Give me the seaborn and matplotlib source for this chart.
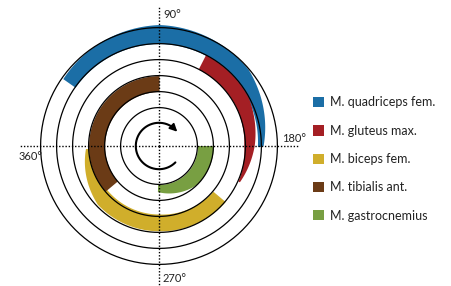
import numpy as np
import matplotlib
matplotlib.use("Agg")
import matplotlib.pyplot as plt
from matplotlib.patches import Patch
import seaborn as sns

# ---- data ----
muscles = ["M. quadriceps fem.", "M. gluteus max.", "M. biceps fem.",
           "M. tibialis ant.", "M. gastrocnemius"]
colors = ["#1b6ea6", "#a41f24", "#d0ae2b", "#6b3b16", "#789f42"]
onset_deg = [35, 117, 220, 320, 180]      # crank angle where activity starts
offset_deg = [180, 204, 358, 450, 272]    # crank angle where activity ends
ring_index = [5, 4, 3, 2, 1]              # ring (from inside) for each muscle
angle_labels = ["90°", "180°", "270°", "360°"]
axis_angles = [90, 180, 270, 0]

# ---- style ----
sns.set_theme(style="white")
plt.rcParams["font.family"] = ["Lato", "DejaVu Sans"]

circle_radii = 2.4 + np.arange(6)   # ring boundaries
rmax = 8.75
# band shape profiles (position along arc, inner / outer edge as fraction of ring width)
profiles = [
    ([0, 0.38, 0.72, 1], [0, 0, -0.05, -0.25], [0.94, 1.19, 0.95, 0.1]),
    ([0, 0.4, 0.72, 1], [0, 0, -0.1, 0.0], [1.0, 0.95, 0.55, 0.1]),
    ([0, 0.36, 0.7, 1], [0, -0.15, -0.15, -0.15], [1.0, 0.9, 0.9, 0.2]),
    ([0, 1], [0, 0], [1, 1]),
    ([0, 0.5, 1], [0, 0, 0], [1, 0.95, 0.45]),
]

fig = plt.figure(figsize=(4.51, 2.86), dpi=100)
ax = fig.add_axes([19 / 451, 0, 280 / 451, 280 / 286], projection="polar")
ax.set_theta_zero_location("W")
ax.set_theta_direction(-1)
ax.set_ylim(0, rmax)
ax.set_axis_off()

# activity bands
for name, c, on, off, ri, prof in zip(muscles, colors, onset_deg, offset_deg,
                                      ring_index, profiles):
    t = np.linspace(0, 1, 300)
    th = np.radians(on + (off - on) * t)
    r0 = circle_radii[ri - 1]
    kt, kin, kout = prof
    rin = r0 + np.interp(t, kt, kin)
    rout = r0 + np.interp(t, kt, kout)
    ax.fill_between(th, rin, rout, color=c, lw=0, zorder=2)

# concentric circles
theta_full = np.linspace(0, 2 * np.pi, 361)
for r in circle_radii:
    sns.lineplot(x=theta_full, y=np.full_like(theta_full, r), ax=ax,
                 color="black", lw=0.9, sort=False, estimator=None, zorder=3)

# dotted cross-hair
for a in axis_angles:
    ax.plot([np.radians(a)] * 2, [0, rmax], color="black", lw=1.0,
            ls=(0, (1, 1.3)), zorder=4)

# rotation arrow
arc = np.radians(np.linspace(225, 490, 200))
ax.plot(arc, np.full_like(arc, 1.45), color="black", lw=1.5, zorder=5)
ax.annotate("", xy=(np.radians(502), 1.45), xytext=(np.radians(488), 1.45),
            arrowprops=dict(arrowstyle="-|>", color="black", lw=1.3,
                            mutation_scale=11, shrinkA=0, shrinkB=0), zorder=5)

# angle labels
label_pos = {"90°": (163, 14), "180°": (282, 139), "270°": (163, 278), "360°": (19, 157)}
for lab in angle_labels:
    x, y = label_pos[lab]
    fig.text(x / 451, 1 - y / 286, lab, ha="left", va="center", fontsize=8,
             color="#222222")

# legend
handles = [Patch(facecolor=c, edgecolor="none", label=m) for m, c in zip(muscles, colors)]
fig.legend(handles=handles, loc="center left", bbox_to_anchor=(313 / 451, 1 - 159 / 286),
           frameon=False, fontsize=9, handlelength=0.88, handleheight=0.88,
           handletextpad=0.45, labelspacing=1.3, borderpad=0, borderaxespad=0,
           labelcolor="#222222")

fig.savefig("out.png", dpi=100)
